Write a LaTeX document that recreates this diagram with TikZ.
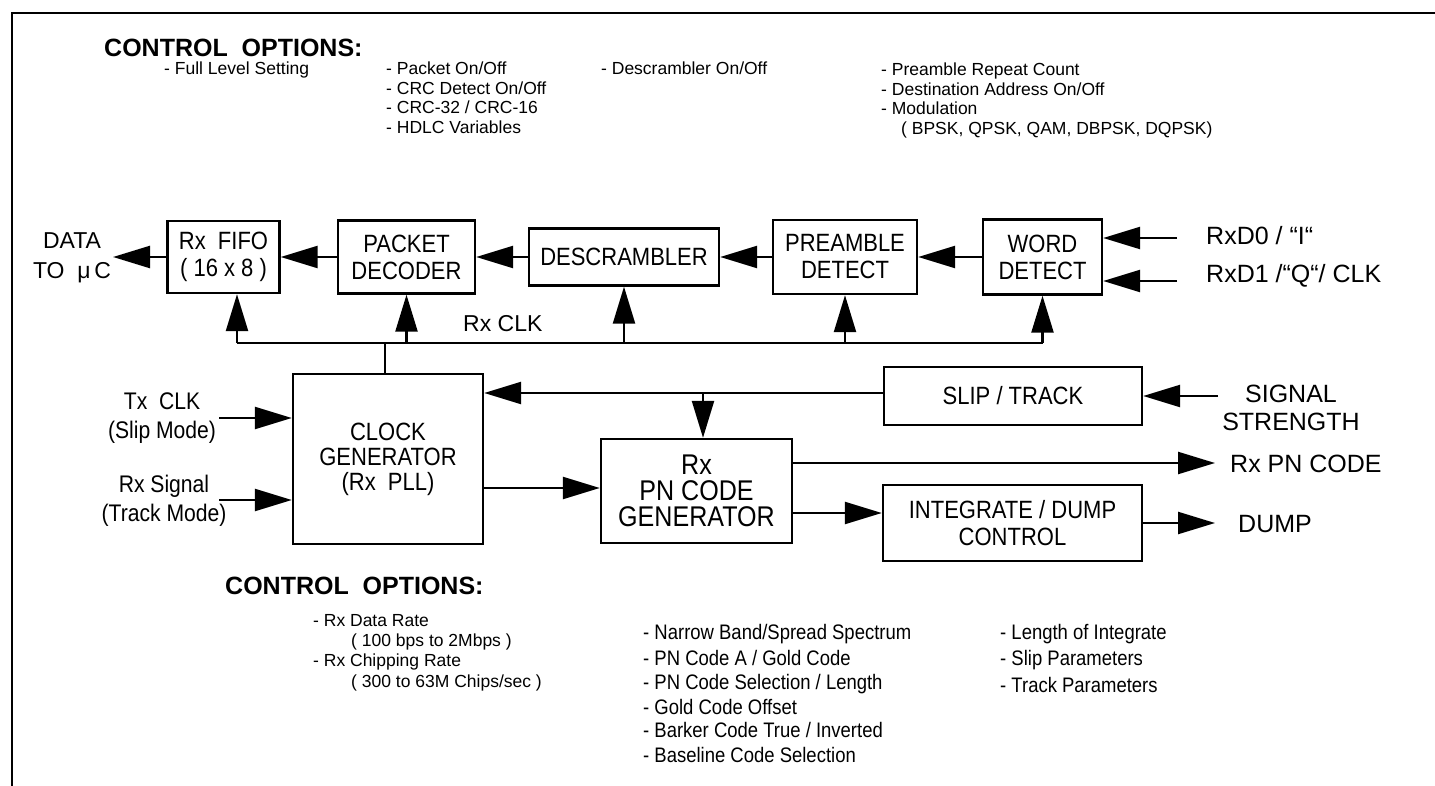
\documentclass[tikz,border=0pt]{standalone}
\usepackage{fontspec}
\setmainfont{Liberation Sans}
\newfontfamily\narrowfont[FakeStretch=0.88]{Liberation Sans}
\usetikzlibrary{arrows.meta}

\begin{document}
\begin{tikzpicture}[x=1pt,y=-1pt,
  line width=2.4pt,
  box/.style={draw, rectangle, inner sep=0pt, align=center,
    font=\narrowfont\fontsize{25}{27}\selectfont},
  arr/.style={-{Triangle[length=37pt,width=22pt]}},
  opt/.style={anchor=base west, inner sep=0pt, font=\fontsize{17.5}{19.5}\selectfont},
  bopt/.style={anchor=base west, inner sep=0pt, font=\narrowfont\fontsize{21}{24}\selectfont},
  lbl/.style={inner sep=0pt, align=center, font=\fontsize{23}{30}\selectfont},
  nlbl/.style={inner sep=0pt, align=center, font=\narrowfont\fontsize{24}{29}\selectfont},
  rlbl/.style={inner sep=0pt, align=center, font=\fontsize{25}{28}\selectfont},
  head/.style={anchor=base west, inner sep=0pt, font=\bfseries\fontsize{25}{30}\selectfont}
]
\useasboundingbox (0,0) rectangle (1435,786);

% page frame
\draw[line width=2.6pt] (12,786) -- (12,13) -- (1435,13);

% ---------- receive data path options ----------
\node[head] (hd1) at (103,57) {CONTROL\ \ OPTIONS:};
\node[opt] (o1) at (163,75) {- Full Level Setting};
\node[opt] (o2) at (385,75) {- Packet On/Off};
\node[opt] (o3) at (385,94.5) {- CRC Detect On/Off};
\node[opt] (o4) at (385,114) {- CRC-32 / CRC-16};
\node[opt] (o5) at (385,133.5) {- HDLC Variables};
\node[opt] (o6) at (600,75) {- Descrambler On/Off};
\node[opt] (o7) at (880,76) {- Preamble Repeat Count};
\node[opt] (o8) at (880,95.5) {- Destination Address On/Off};
\node[opt] (o9) at (880,115) {- Modulation};
\node[opt] (o10) at (900,134.5) {( BPSK, QPSK, QAM, DBPSK, DQPSK)};

% ---------- data path blocks ----------
\node[box, minimum width=112pt, minimum height=72pt] (fifo) at (223.5,257) {Rx\ \ FIFO\\( 16 x 8 )};
\node[box, minimum width=137pt, minimum height=73pt] (pkt) at (406.5,257) {PACKET\\DECODER};
\node[box, minimum width=190pt, minimum height=57pt] (desc) at (624,257) {DESCRAMBLER};
\node[box, minimum width=144pt, minimum height=74pt] (pre) at (845,257) {PREAMBLE\\DETECT};
\node[box, minimum width=119pt, minimum height=75pt] (word) at (1042.5,257) {WORD\\DETECT};

\node[lbl] (data) at (72,258) {DATA\\TO\ \ μ\,C};
\coordinate (dataend) at (113,257);

\draw[arr] (fifo.west) -- (dataend);
\draw[arr] (pkt.west) -- (fifo.east);
\draw[arr] (desc.west) -- (pkt.east);
\draw[arr] (pre.west) -- (desc.east);
\draw[arr] (word.west) -- (pre.east);

% inputs to word detect
\coordinate (rx0s) at (1177,238);
\coordinate (rx1s) at (1177,281);
\draw[arr] (rx0s) -- (rx0s -| word.east);
\draw[arr] (rx1s) -- (rx1s -| word.east);
\node[rlbl, anchor=base west] (rx0) at (1205,245) {RxD0 / “I“};
\node[rlbl, anchor=base west] (rx1) at (1205,283) {RxD1 /“Q“/ CLK};

% ---------- receive clock bus ----------
\coordinate (b1) at (237,343);
\coordinate (cv) at (385,343);
\draw (b1) -- (b1 -| word.south);
\draw[arr] (b1) -- (b1 |- fifo.south);
\draw[arr] (b1 -| pkt.south) -- (pkt.south);
\draw[arr] (b1 -| desc.south) -- (desc.south);
\draw[arr] (b1 -| pre.south) -- (pre.south);
\draw[arr] (b1 -| word.south) -- (word.south);
\node[lbl, anchor=base west] (rxclk) at (462,331) {Rx CLK};

% ---------- clock generation ----------
\node[box, font=\narrowfont\fontsize{25}{25}\selectfont, minimum width=190pt, minimum height=170pt] (clk) at (388,459) {CLOCK\\GENERATOR\\(Rx\ \ PLL)};
\draw (cv) -- (cv |- clk.north);

\node[nlbl] (txl) at (162,418) {Tx\ \ CLK\\(Slip Mode)};
\node[nlbl] (rxl) at (164,501) {Rx Signal\\(Track Mode)};
\coordinate (txs) at (219,418);
\coordinate (rxs) at (219,500);
\draw[arr] (txs) -- (txs -| clk.west);
\draw[arr] (rxs) -- (rxs -| clk.west);

\node[box, minimum width=258pt, minimum height=58pt] (slip) at (1013,396) {SLIP / TRACK};
\node[box, font=\narrowfont\fontsize{28.5}{26}\selectfont, minimum width=191pt, minimum height=104pt] (pn) at (696.5,491) {Rx\\PN CODE\\GENERATOR};
\node[box, minimum width=259pt, minimum height=76pt] (integ) at (1012.5,523) {INTEGRATE / DUMP\\CONTROL};

\coordinate (yF) at (0,393);
\coordinate (yA) at (0,488);
\coordinate (yB) at (0,463);
\coordinate (yC) at (0,513);
\coordinate (br) at (703,393);
\draw[arr] (slip.west |- yF) -- (clk.east |- yF);
\draw[arr] (br) -- (br |- pn.north);
\draw[arr] (clk.east |- yA) -- (pn.west |- yA);
\draw[arr] (pn.east |- yC) -- (integ.west |- yC);

\coordinate (outPN) at (1215,463);
\coordinate (outD) at (1215,523);
\coordinate (sigS) at (1218,396);
\draw[arr] (pn.east |- yB) -- (outPN);
\draw[arr] (integ.east) -- (outD);
\draw[arr] (sigS) -- (slip.east);

\node[rlbl] (sig) at (1291,408) {SIGNAL\\STRENGTH};
\node[rlbl, anchor=base west] (pncode) at (1229,472) {Rx PN CODE};
\node[rlbl, anchor=base west] (dump) at (1237,532) {DUMP};

% ---------- spreading / timing options ----------
\node[head] (hd2) at (224,594) {CONTROL\ \ OPTIONS:};
\node[opt] (p1) at (312,626) {- Rx Data Rate};
\node[opt] (p2) at (350,646) {( 100 bps to 2Mbps )};
\node[opt] (p3) at (312,666) {- Rx Chipping Rate};
\node[opt] (p4) at (350,687) {( 300 to 63M Chips/sec )};

\node[bopt] (q1) at (642,639) {- Narrow Band/Spread Spectrum};
\node[bopt] (q2) at (642,665) {- PN Code A / Gold Code};
\node[bopt] (q3) at (642,689) {- PN Code Selection / Length};
\node[bopt] (q4) at (642,714) {- Gold Code Offset};
\node[bopt] (q5) at (642,737) {- Barker Code True / Inverted};
\node[bopt] (q6) at (642,762) {- Baseline Code Selection};

\node[bopt] (r1) at (999,639) {- Length of Integrate};
\node[bopt] (r2) at (999,665) {- Slip Parameters};
\node[bopt] (r3) at (999,692) {- Track Parameters};
\end{tikzpicture}
\end{document}
